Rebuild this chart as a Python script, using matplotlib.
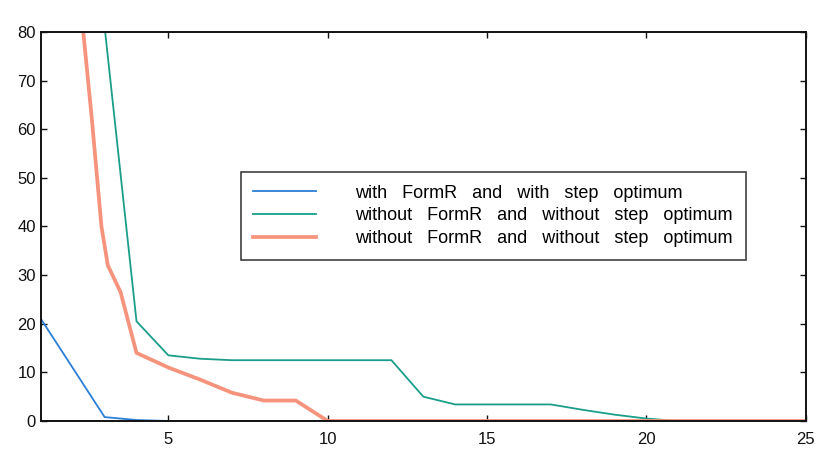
import matplotlib
matplotlib.use("Agg")
import matplotlib.pyplot as plt

plt.rcParams["font.family"] = ["Liberation Sans", "DejaVu Sans"]

# --- data ---
x_blue = [1, 3, 4, 5, 10, 25]
y_blue = [21, 0.8, 0.2, 0, 0, 0]

x_green = [3, 4, 5, 6, 7, 12, 13, 14, 17, 18, 19, 20, 21]
y_green = [81, 20.5, 13.5, 12.8, 12.5, 12.5, 5.0, 3.4, 3.4, 2.3, 1.3, 0.5, 0]

x_orange = [2.3, 2.6, 2.9, 3.1, 3.5, 4, 5, 6, 7, 8, 9, 10, 25]
y_orange = [82, 62, 40, 32, 26.5, 14, 11, 8.5, 5.8, 4.2, 4.2, 0, 0]

labels = ["with   FormR   and   with   step   optimum",
          "without   FormR   and   without   step   optimum",
          "without   FormR   and   without   step   optimum"]

xticks = [5, 10, 15, 20, 25]
yticks = [0, 10, 20, 30, 40, 50, 60, 70, 80]

fig = plt.figure(figsize=(8.18, 4.49), dpi=100)
ax = fig.add_axes([0.050, 0.0624, 0.935, 0.8663])

ax.plot(x_blue, y_blue, color="#2c7fd6", linewidth=1.3, label=labels[0])
ax.plot(x_green, y_green, color="#1a9e8a", linewidth=1.3, label=labels[1])
ax.plot(x_orange, y_orange, color="#f6937c", linewidth=2.7, label=labels[2])

ax.set_xlim(1, 25)
ax.set_ylim(0, 80)
ax.set_xticks(xticks)
ax.set_yticks(yticks)
ax.tick_params(direction="in", top=True, right=True, length=4, labelsize=12,
               width=1, colors="#111111")
ax.tick_params(axis="x", pad=8)
for s in ax.spines.values():
    s.set_linewidth(1.4)
    s.set_color("#111111")

leg = ax.legend(loc="upper left", bbox_to_anchor=(0.2614, 0.640), fontsize=13,
                frameon=True, fancybox=False, edgecolor="#111111",
                handlelength=3.45, handletextpad=2.2, labelspacing=0.32,
                borderpad=0.7, borderaxespad=0)
leg.get_frame().set_linewidth(1.2)

plt.savefig("out.png", dpi=100)
print("Saved out.png")
